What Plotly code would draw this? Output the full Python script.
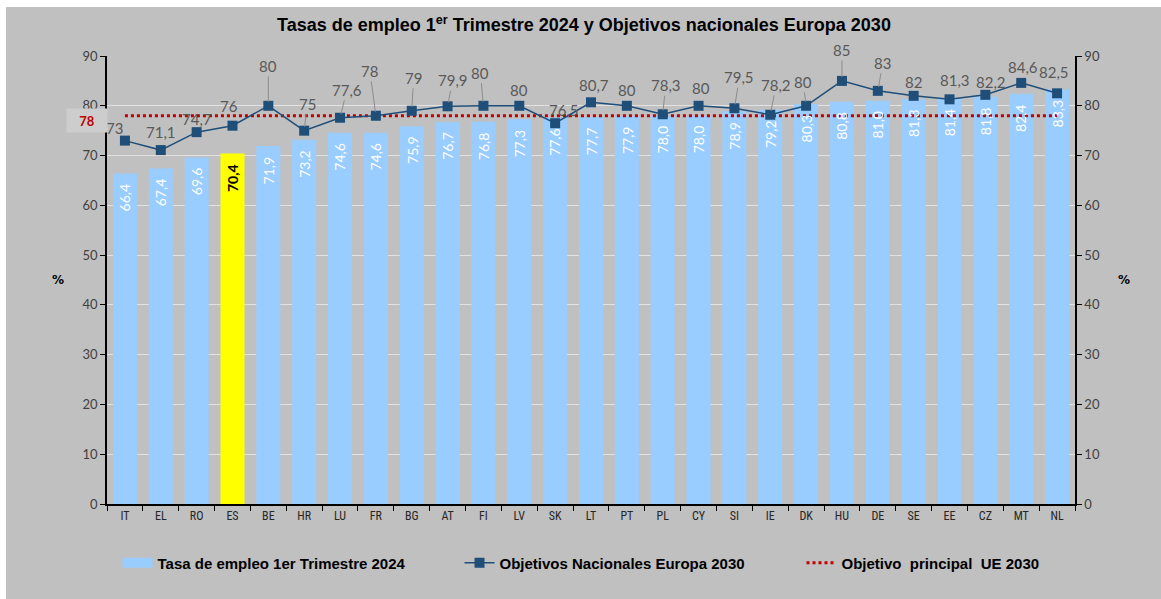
import plotly.graph_objects as go

countries = ["IT", "EL", "RO", "ES", "BE", "HR", "LU", "FR", "BG", "AT", "FI", "LV", "SK",
             "LT", "PT", "PL", "CY", "SI", "IE", "DK", "HU", "DE", "SE", "EE", "CZ", "MT", "NL"]
employment_rate = [66.4, 67.4, 69.6, 70.4, 71.9, 73.2, 74.6, 74.6, 75.9, 76.7, 76.8, 77.3, 77.6,
                   77.7, 77.9, 78.0, 78.0, 78.9, 79.2, 80.3, 80.8, 81.0, 81.3, 81.4, 81.8, 82.4, 83.3]
national_target = [73, 71.1, 74.7, 76, 80, 75, 77.6, 78, 79, 79.9, 80, 80, 76.5,
                   80.7, 80, 78.3, 80, 79.5, 78.2, 80, 85, 83, 82, 81.3, 82.2, 84.6, 82.5]
eu_target = 78
highlight = "ES"

# label offsets (pixels) for the national-target labels, as placed in the original
label_dx = [-10, 0, 0, -3, 0, 3, 7, -6, 2, 5, -3, 0, 9, 3, 0, 3, 2, 5, 6, -3, 0, 5, 0, 5, 6, 2, -3]
label_dy = [-13, -18, -13, -20, -40, -27, -28, -45, -33, -26, -33, -16, -13, -17, -16, -29, -18,
            -31, -30, -24, -31, -28, -14, -19, -13, -16, -21]

BAR_BLUE = "#99CCFF"
LINE_BLUE = "#1F4E79"
RED = "#C00000"
BG = "#C0C0C0"
CAL = "Lato, Carlito, Calibri, sans-serif"

def fmt(v):
    return ("%g" % v).replace(".", ",")

bar_colors = ["#FFFF00" if c == highlight else BAR_BLUE for c in countries]

fig = go.Figure()

fig.add_trace(go.Bar(
    x=countries, y=employment_rate,
    name="Tasa de empleo 1er Trimestre 2024", showlegend=False,
    marker=dict(color=bar_colors, line=dict(width=0)),
))
# legend entry for the bars (wide swatch as in the original)
fig.add_trace(go.Scatter(
    x=[None], y=[None], mode="lines", name="Tasa de empleo 1er Trimestre 2024",
    line=dict(color=BAR_BLUE, width=10), legendrank=1,
))

fig.add_trace(go.Scatter(
    x=countries, y=[eu_target] * len(countries), mode="lines",
    name="Objetivo  principal  UE 2030", legendrank=3,
    line=dict(color=RED, width=3, dash="dot"),
))

fig.add_trace(go.Scatter(
    x=countries, y=national_target, mode="lines+markers",
    name="Objetivos Nacionales Europa 2030", legendrank=2,
    line=dict(color=LINE_BLUE, width=1.5),
    marker=dict(symbol="square", size=10, color=LINE_BLUE),
))

# dummy trace for the right axis
fig.add_trace(go.Scatter(x=countries, y=[None] * len(countries), yaxis="y2",
                         showlegend=False, hoverinfo="skip"))

annotations = []
# bar value labels, rotated, inside the top of each bar
for c, v in zip(countries, employment_rate):
    hl = c == highlight
    txt = ("%.1f" % v).replace(".", ",")
    annotations.append(dict(
        x=c, y=v, xref="x", yref="y", text="<b>%s</b>" % txt if hl else txt,
        showarrow=False, textangle=-90, yanchor="top", xanchor="center", yshift=-8,
        font=dict(family=CAL, size=14, color="#000000" if hl else "#FFFFFF"),
    ))

for c, v, dx, dy in zip(countries, national_target, label_dx, label_dy):
    leader = abs(dy) >= 24
    annotations.append(dict(
        x=c, y=v, xref="x", yref="y", text=fmt(v),
        showarrow=True, ax=dx, ay=dy, arrowhead=0, arrowwidth=1,
        arrowcolor="#8C8C8C" if leader else "rgba(0,0,0,0)", standoff=4,
        font=dict(family=CAL, size=15, color="#595959"),
    ))

annotations.append(dict(
    x=-0.0207, xref="paper", xanchor="center", y=eu_target, yref="y", yanchor="middle", yshift=-5,
    text="<b>%g</b>" % eu_target,
    showarrow=False, bgcolor="#CDCDCD", borderpad=2, width=36, height=19,
    font=dict(family=CAL, size=13, color=RED),
))
for xp in (-0.0506, 1.0506):
    annotations.append(dict(
        x=xp, xref="paper", xanchor="center", y=0.5, yref="paper", yanchor="middle",
        text="<b>%</b>", showarrow=False,
        font=dict(family="Verdana, DejaVu Sans, sans-serif", size=12, color="#000000"),
    ))

axis_font = dict(family=CAL, size=13, color="#404040")
yaxis_common = dict(
    range=[0, 90], dtick=10, tick0=0, showline=True, linecolor="#000000", linewidth=1.5,
    ticks="outside", ticklen=5, tickcolor="#000000", tickfont=axis_font,
    zeroline=False,
)

# the figure sits 7px from the top and 6px from the left of the page (white strip, as in the reference)
fig.update_layout(
    width=1155, height=592,
    margin=dict(l=101, r=86, t=49, b=95, autoexpand=False),
    paper_bgcolor=BG, plot_bgcolor=BG,
    title=dict(
        text="Tasas de empleo 1<sup>er</sup> Trimestre 2024 y Objetivos nacionales Europa 2030",
        x=0.5004, xref="container", xanchor="center", y=0.9696, yref="container", yanchor="middle",
        font=dict(family="Liberation Sans, Arial, sans-serif", size=18, color="#000000", weight="bold"),
    ),
    bargap=0.33,
    xaxis=dict(
        range=[-0.5, len(countries) - 0.5], autorange=False,
        showline=True, linecolor="#000000", linewidth=1.5, ticks="outside", tickson="boundaries",
        ticklen=5, tickcolor="#000000",
        tickfont=dict(family="Liberation Sans Narrow, Arial Narrow, Roboto Condensed, sans-serif",
                      size=12, color="#262626"),
        showgrid=False, zeroline=False,
    ),
    yaxis=dict(showgrid=True, gridcolor="#E2E2E2", gridwidth=1, **yaxis_common),
    yaxis2=dict(overlaying="y", side="right", showgrid=False, **yaxis_common),
    legend=dict(
        orientation="h", x=-0.0005, xanchor="left", y=-0.1317, yanchor="middle",
        font=dict(family="Liberation Sans, Arial, sans-serif", size=15, color="#000000", weight="bold"),
        bgcolor="rgba(0,0,0,0)", itemwidth=30, entrywidth=286, entrywidthmode="pixels",
        indentation=11,
    ),
    annotations=annotations,
    showlegend=True,
)

fig.write_html(
    "out.html",
    default_width="1155px", default_height="592px",
    post_script="document.body.style.margin='7px 0 0 6px';document.body.style.overflow='hidden';",
)
